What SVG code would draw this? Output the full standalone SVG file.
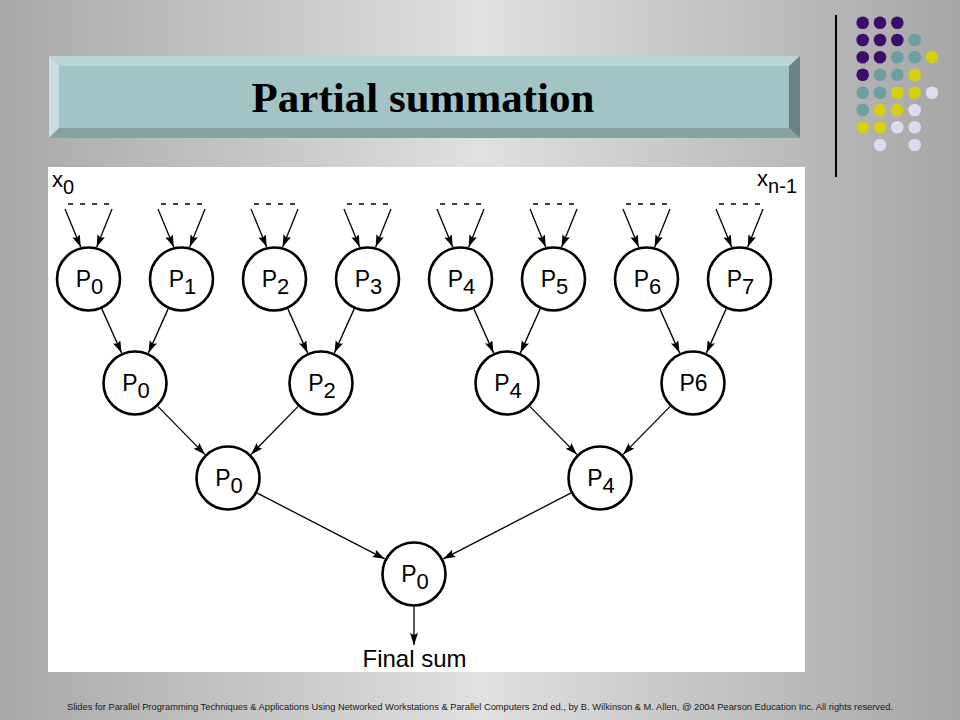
<svg xmlns="http://www.w3.org/2000/svg" width="960" height="720" viewBox="0 0 960 720">
<defs>
<linearGradient id="bg" x1="0" y1="0" x2="1" y2="0">
<stop offset="0" stop-color="#a8a8a8"/>
<stop offset="0.5" stop-color="#e0e0e0"/>
<stop offset="1" stop-color="#a6a6a6"/>
</linearGradient>
<marker id="ah" markerUnits="userSpaceOnUse" markerWidth="13" markerHeight="9" refX="12" refY="4" orient="auto">
<path d="M0,0 L12,4 L0,8 L2,4 Z" fill="#000"/>
</marker>
</defs>
<style>
.node circle{fill:#fff;stroke:#000;stroke-width:2.6}
.lbl{font-family:"Liberation Sans",Arial,sans-serif;font-size:23px;fill:#000;text-anchor:middle}
.sub{font-size:22px}
.conn line{stroke:#000;stroke-width:1.3;marker-end:url(#ah)}
.dash{stroke:#000;stroke-width:2.2;stroke-dasharray:5 7}
.dot1{fill:#3c0c6c}.dot2{fill:#6c9fa0}.dot3{fill:#d4d010}.dot4{fill:#dcdcee}
</style>
<rect x="0" y="0" width="960" height="720" fill="url(#bg)"/>
<g id="decor">
<line x1="836" y1="15" x2="836" y2="177" stroke="#000" stroke-width="2"/>
<g>
<circle class="dot1" cx="862.7" cy="22.7" r="6.3"/><circle class="dot1" cx="880" cy="22.7" r="6.3"/><circle class="dot1" cx="897.3" cy="22.7" r="6.3"/>
<circle class="dot1" cx="862.7" cy="40" r="6.3"/><circle class="dot1" cx="880" cy="40" r="6.3"/><circle class="dot1" cx="897.3" cy="40" r="6.3"/><circle class="dot2" cx="914.7" cy="40" r="6.3"/>
<circle class="dot1" cx="862.7" cy="57.3" r="6.3"/><circle class="dot1" cx="880" cy="57.3" r="6.3"/><circle class="dot2" cx="897.3" cy="57.3" r="6.3"/><circle class="dot2" cx="914.7" cy="57.3" r="6.3"/><circle class="dot3" cx="932" cy="57.3" r="6.3"/>
<circle class="dot1" cx="862.7" cy="74.7" r="6.3"/><circle class="dot2" cx="880" cy="74.7" r="6.3"/><circle class="dot2" cx="897.3" cy="74.7" r="6.3"/><circle class="dot3" cx="914.7" cy="74.7" r="6.3"/>
<circle class="dot2" cx="862.7" cy="92.7" r="6.3"/><circle class="dot2" cx="880" cy="92.7" r="6.3"/><circle class="dot3" cx="897.3" cy="92.7" r="6.3"/><circle class="dot3" cx="914.7" cy="92.7" r="6.3"/><circle class="dot4" cx="932" cy="92.7" r="6.3"/>
<circle class="dot2" cx="862.7" cy="110" r="6.3"/><circle class="dot3" cx="880" cy="110" r="6.3"/><circle class="dot3" cx="897.3" cy="110" r="6.3"/><circle class="dot4" cx="914.7" cy="110" r="6.3"/>
<circle class="dot3" cx="862.7" cy="127.3" r="6.3"/><circle class="dot3" cx="880" cy="127.3" r="6.3"/><circle class="dot4" cx="897.3" cy="127.3" r="6.3"/><circle class="dot4" cx="914.7" cy="127.3" r="6.3"/>
<circle class="dot4" cx="880" cy="145" r="6.3"/><circle class="dot4" cx="914.7" cy="145" r="6.3"/>
</g>
</g>
<g id="title">
<polygon points="49,56 800,56 789,66 59,66" fill="#b9d5d5"/>
<polygon points="49,56 59,66 59,128 49,138" fill="#c9dede"/>
<polygon points="49,138 59,128 789,128 800,138" fill="#86a2a2"/>
<polygon points="800,56 800,138 789,128 789,66" fill="#6a8282"/>
<rect x="59" y="66" width="730" height="62" fill="#a2c4c4"/>
<text x="423" y="112" font-family="'Liberation Serif','Times New Roman',serif" font-weight="bold" font-size="43" text-anchor="middle" fill="#000">Partial summation</text>
</g>
<rect x="48" y="167" width="757" height="505" fill="#fff"/>
<text x="52" y="187" font-family="'Liberation Sans',Arial,sans-serif" font-size="22" fill="#000">x<tspan font-size="20" dy="7">0</tspan></text>
<text x="797" y="186" font-family="'Liberation Sans',Arial,sans-serif" font-size="22" fill="#000" text-anchor="end">x<tspan font-size="20" dy="7">n-1</tspan></text>
<g id="connectors" class="conn">
<g id="dashes">
<line class="dash" x1="68" y1="204" x2="109" y2="204" style="marker-end:none"/>
<line class="dash" x1="161" y1="204" x2="202" y2="204" style="marker-end:none"/>
<line class="dash" x1="254" y1="204" x2="295" y2="204" style="marker-end:none"/>
<line class="dash" x1="347" y1="204" x2="388" y2="204" style="marker-end:none"/>
<line class="dash" x1="440" y1="204" x2="481" y2="204" style="marker-end:none"/>
<line class="dash" x1="533" y1="204" x2="574" y2="204" style="marker-end:none"/>
<line class="dash" x1="626" y1="204" x2="667" y2="204" style="marker-end:none"/>
<line class="dash" x1="719" y1="204" x2="760" y2="204" style="marker-end:none"/>
</g>
<line x1="65" y1="209" x2="80.7" y2="247"/><line x1="112" y1="209" x2="96.7" y2="247"/>
<line x1="158" y1="209" x2="173.7" y2="247"/><line x1="205" y1="209" x2="189.7" y2="247"/>
<line x1="251" y1="209" x2="266.7" y2="247"/><line x1="298" y1="209" x2="282.7" y2="247"/>
<line x1="344" y1="209" x2="359.7" y2="247"/><line x1="391" y1="209" x2="375.7" y2="247"/>
<line x1="437" y1="209" x2="452.7" y2="247"/><line x1="484" y1="209" x2="468.7" y2="247"/>
<line x1="530" y1="209" x2="545.7" y2="247"/><line x1="577" y1="209" x2="561.7" y2="247"/>
<line x1="623" y1="209" x2="638.7" y2="247"/><line x1="670" y1="209" x2="654.7" y2="247"/>
<line x1="716" y1="209" x2="731.7" y2="247"/><line x1="763" y1="209" x2="747.7" y2="247"/>
<line x1="101.97" y1="309.13" x2="121.53" y2="352.87"/>
<line x1="168.03" y1="309.13" x2="148.47" y2="352.87"/>
<line x1="287.97" y1="309.13" x2="307.53" y2="352.87"/>
<line x1="354.03" y1="309.13" x2="334.47" y2="352.87"/>
<line x1="473.97" y1="309.13" x2="493.53" y2="352.87"/>
<line x1="540.03" y1="309.13" x2="520.47" y2="352.87"/>
<line x1="659.97" y1="309.13" x2="679.53" y2="352.87"/>
<line x1="726.03" y1="309.13" x2="706.47" y2="352.87"/>
<line x1="158.09" y1="406.58" x2="204.91" y2="454.42"/>
<line x1="297.91" y1="406.58" x2="251.09" y2="454.42"/>
<line x1="530.09" y1="406.58" x2="576.91" y2="454.42"/>
<line x1="669.91" y1="406.58" x2="623.09" y2="454.42"/>
<line x1="257.32" y1="493.14" x2="384.68" y2="558.86"/>
<line x1="570.68" y1="493.14" x2="443.32" y2="558.86"/>
<line x1="414" y1="607" x2="414" y2="645"/>
</g>
<g id="n1_0" class="node"><circle cx="88.5" cy="279" r="31.5"/><text class="lbl" x="89.5" y="287">P<tspan class="sub" dy="6.5">0</tspan></text></g>
<g id="n1_1" class="node"><circle cx="181.5" cy="279" r="31.5"/><text class="lbl" x="182.5" y="287">P<tspan class="sub" dy="6.5">1</tspan></text></g>
<g id="n1_2" class="node"><circle cx="274.5" cy="279" r="31.5"/><text class="lbl" x="275.5" y="287">P<tspan class="sub" dy="6.5">2</tspan></text></g>
<g id="n1_3" class="node"><circle cx="367.5" cy="279" r="31.5"/><text class="lbl" x="368.5" y="287">P<tspan class="sub" dy="6.5">3</tspan></text></g>
<g id="n1_4" class="node"><circle cx="460.5" cy="279" r="31.5"/><text class="lbl" x="461.5" y="287">P<tspan class="sub" dy="6.5">4</tspan></text></g>
<g id="n1_5" class="node"><circle cx="553.5" cy="279" r="31.5"/><text class="lbl" x="554.5" y="287">P<tspan class="sub" dy="6.5">5</tspan></text></g>
<g id="n1_6" class="node"><circle cx="646.5" cy="279" r="31.5"/><text class="lbl" x="647.5" y="287">P<tspan class="sub" dy="6.5">6</tspan></text></g>
<g id="n1_7" class="node"><circle cx="739.5" cy="279" r="31.5"/><text class="lbl" x="740.5" y="287">P<tspan class="sub" dy="6.5">7</tspan></text></g>
<g id="n2_0" class="node"><circle cx="135" cy="383" r="31.5"/><text class="lbl" x="136" y="391">P<tspan class="sub" dy="6.5">0</tspan></text></g>
<g id="n2_2" class="node"><circle cx="321" cy="383" r="31.5"/><text class="lbl" x="322" y="391">P<tspan class="sub" dy="6.5">2</tspan></text></g>
<g id="n2_4" class="node"><circle cx="507" cy="383" r="31.5"/><text class="lbl" x="508" y="391">P<tspan class="sub" dy="6.5">4</tspan></text></g>
<g id="n2_6" class="node"><circle cx="693" cy="383" r="31.5"/><text class="lbl" x="693.5" y="391">P6</text></g>
<g id="n3_0" class="node"><circle cx="228" cy="478" r="31.5"/><text class="lbl" x="229" y="486">P<tspan class="sub" dy="6.5">0</tspan></text></g>
<g id="n3_4" class="node"><circle cx="600" cy="478" r="31.5"/><text class="lbl" x="601" y="486">P<tspan class="sub" dy="6.5">4</tspan></text></g>
<g id="n4_0" class="node"><circle cx="414" cy="574" r="31.5"/><text class="lbl" x="415" y="582">P<tspan class="sub" dy="6.5">0</tspan></text></g>
<text x="414.5" y="667" font-family="'Liberation Sans',Arial,sans-serif" font-size="24" text-anchor="middle" fill="#000">Final sum</text>
<text x="480" y="710" font-family="'Liberation Sans',Arial,sans-serif" font-size="8.6" text-anchor="middle" fill="#1a1a1a" textLength="826" lengthAdjust="spacingAndGlyphs">Slides for Parallel Programming Techniques &amp; Applications Using Networked Workstations &amp; Parallel Computers 2nd ed., by B. Wilkinson &amp; M. Allen, @ 2004 Pearson Education Inc. All rights reserved.</text>
</svg>
